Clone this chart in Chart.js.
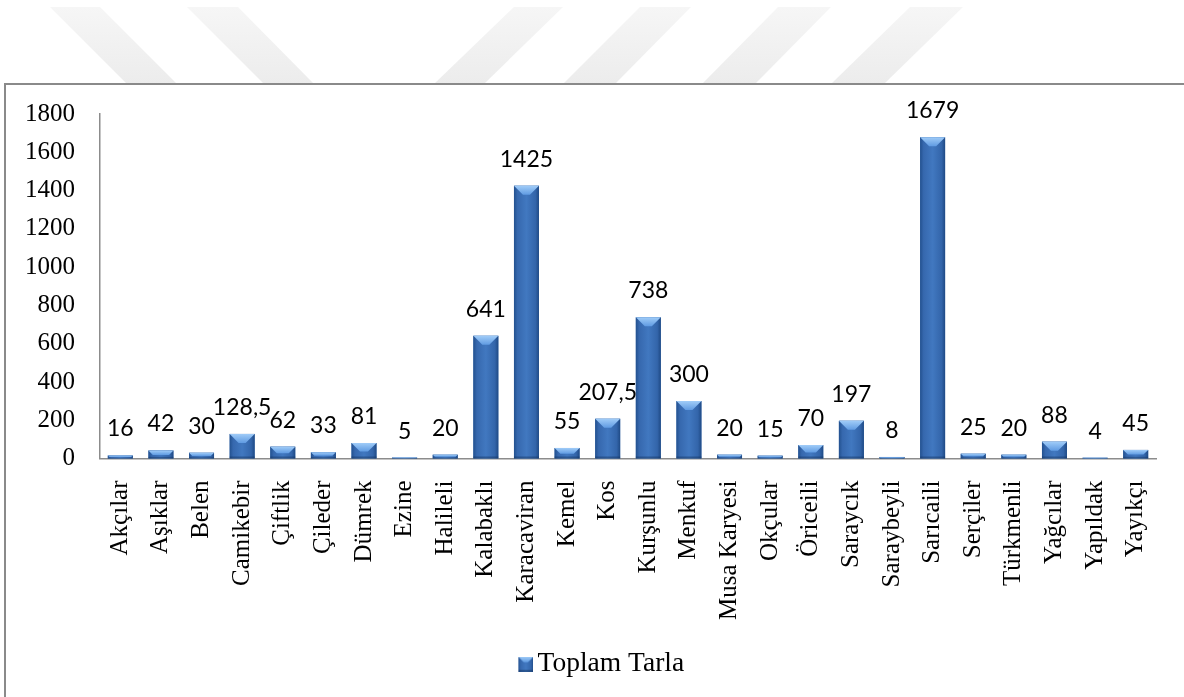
<!DOCTYPE html>
<html>
<head>
<meta charset="utf-8">
<script src="https://cdn.jsdelivr.net/npm/chart.js@4/dist/chart.umd.min.js"></script>
<style>
  html, body { margin:0; padding:0; background:#fff; width:1184px; height:697px; overflow:hidden; }
  #wm { position:absolute; left:0; top:0; }
  #frame { position:absolute; left:4px; top:83px; width:1300px; height:700px; border:2px solid #8a8a8a; box-sizing:border-box; background:#fff; }
  #c { position:absolute; left:0; top:0; }
</style>
</head>
<body>
<svg id="wm" width="1184" height="100">
  <defs>
    <linearGradient id="wg" x1="0" y1="0" x2="0" y2="1">
      <stop offset="0" stop-color="#f6f6f6"/>
      <stop offset="1" stop-color="#ececec"/>
    </linearGradient>
  </defs>
  <g fill="url(#wg)">
    <polygon points="50,7 100,7 177,84 127,84"/>
    <polygon points="187,7 238,7 314,84 264,84"/>
    <polygon points="514,7 563,7 484,84 434,84"/>
    <polygon points="640,7 691,7 615,84 563,84"/>
    <polygon points="778,7 831,7 755,84 702,84"/>
    <polygon points="910,7 963,7 884,84 831,84"/>
  </g>
</svg>
<div id="frame"></div>
<canvas id="c" width="1184" height="697"></canvas>
<script>
const categories = ['Akçılar','Aşıklar','Belen','Camikebir','Çiftlik','Çileder','Dümrek','Ezine','Halileli','Kalabaklı','Karacaviran','Kemel','Kos','Kurşunlu','Menkuf','Musa Karyesi','Okçular','Öriceili','Saraycık','Saraybeyli','Sarıcaili','Serçiler','Türkmenli','Yağcılar','Yapıldak','Yayıkçı'];
const toplamTarla = [16,42,30,128.5,62,33,81,5,20,641,1425,55,207.5,738,300,20,15,70,197,8,1679,25,20,88,4,45];
const seriesName = 'Toplam Tarla';
const yTicks = [0,200,400,600,800,1000,1200,1400,1600,1800];

function fmt(v){ return String(v).replace('.', ','); }

function drawBevel(ctx, l, t, w, h){
  const r = l + w, b = t + h;
  if (h <= 0) return;
  const g = ctx.createLinearGradient(l,0,r,0);
  g.addColorStop(0,'#23518f');
  g.addColorStop(0.14,'#3668ae');
  g.addColorStop(0.5,'#4178c0');
  g.addColorStop(0.86,'#3365aa');
  g.addColorStop(1,'#1f4a85');
  ctx.fillStyle = g;
  ctx.fillRect(l,t,w,h);
  const s = Math.min(w*0.36, h*0.55, 9);
  const tg = ctx.createLinearGradient(0,t,0,t+s);
  tg.addColorStop(0,'#a0ccf8');
  tg.addColorStop(1,'#609be2');
  ctx.fillStyle = tg;
  ctx.beginPath();
  ctx.moveTo(l,t); ctx.lineTo(r,t); ctx.lineTo(r-s,t+s); ctx.lineTo(l+s,t+s); ctx.closePath();
  ctx.fill();
  const bs = Math.min(2, h*0.2);
  ctx.fillStyle = 'rgba(20,50,95,0.45)';
  ctx.fillRect(l, b-bs, w, bs);
}

const bevelPlugin = {
  id:'bevel',
  beforeDraw(chart){
    if (chart.legend) { chart.legend.left = 50; chart.legend.right = 1156; }
  },
  afterDatasetsDraw(chart){
    const ctx = chart.ctx;
    const meta = chart.getDatasetMeta(0);
    ctx.save();
    meta.data.forEach((bar)=>{
      const p = bar.getProps(['x','y','base','width'], true);
      drawBevel(ctx, p.x - p.width/2, p.y, p.width, p.base - p.y);
    });
    ctx.fillStyle = '#000';
    ctx.font = '23px Lato, "Open Sans", sans-serif';
    ctx.textAlign = 'center';
    ctx.textBaseline = 'alphabetic';
    meta.data.forEach((bar,i)=>{
      const p = bar.getProps(['x','y'], true);
      ctx.fillText(fmt(toplamTarla[i]), p.x, p.y - 19);
    });
    ctx.restore();
  }
};

const icon = document.createElement('canvas');
icon.width = 21; icon.height = 15;
drawBevel(icon.getContext('2d'), 6, 0, 15, 15);

new Chart(document.getElementById('c'), {
  type:'bar',
  data:{
    labels: categories,
    datasets:[{
      label: seriesName,
      data: toplamTarla,
      backgroundColor:'#3a6fb5',
      borderWidth:0,
      categoryPercentage:1.0,
      barPercentage:0.615
    }]
  },
  plugins:[bevelPlugin],
  options:{
    responsive:false,
    animation:false,
    events:[],
    layout:{ padding:{ left:0, right:28, top:114, bottom:9 } },
    plugins:{
      tooltip:{ enabled:false },
      legend:{
        position:'bottom',
        labels:{
          color:'#000',
          font:{ family:'"Liberation Serif", "Times New Roman", serif', size:27.5 },
          usePointStyle:true,
          boxWidth:2,
          boxHeight:15,
          padding:10,
          generateLabels(chart){
            return [{ text: seriesName, pointStyle: icon, fillStyle:'#3a6fb5', strokeStyle:'#3a6fb5', lineWidth:0, datasetIndex:0, hidden:false }];
          }
        }
      }
    },
    scales:{
      x:{
        grid:{ display:false },
        border:{ display:true, color:'#8c8c8c', width:1.5 },
        afterFit(scale){ scale.height = 182; },
        ticks:{
          autoSkip:false,
          minRotation:90, maxRotation:90,
          padding:14,
          color:'#000',
          font:{ family:'"Liberation Serif", "Times New Roman", serif', size:25 }
        }
      },
      y:{
        min:0, max:1800,
        afterFit(scale){ scale.width = 100; },
        afterBuildTicks(scale){ scale.ticks = yTicks.map(v=>({value:v})); },
        grid:{ display:false },
        border:{ display:true, color:'#8c8c8c', width:1.5 },
        ticks:{
          padding:17,
          color:'#000',
          callback:(v)=>String(v),
          font:{ family:'"Liberation Serif", "Times New Roman", serif', size:25 }
        }
      }
    }
  }
});
</script>
</body>
</html>
